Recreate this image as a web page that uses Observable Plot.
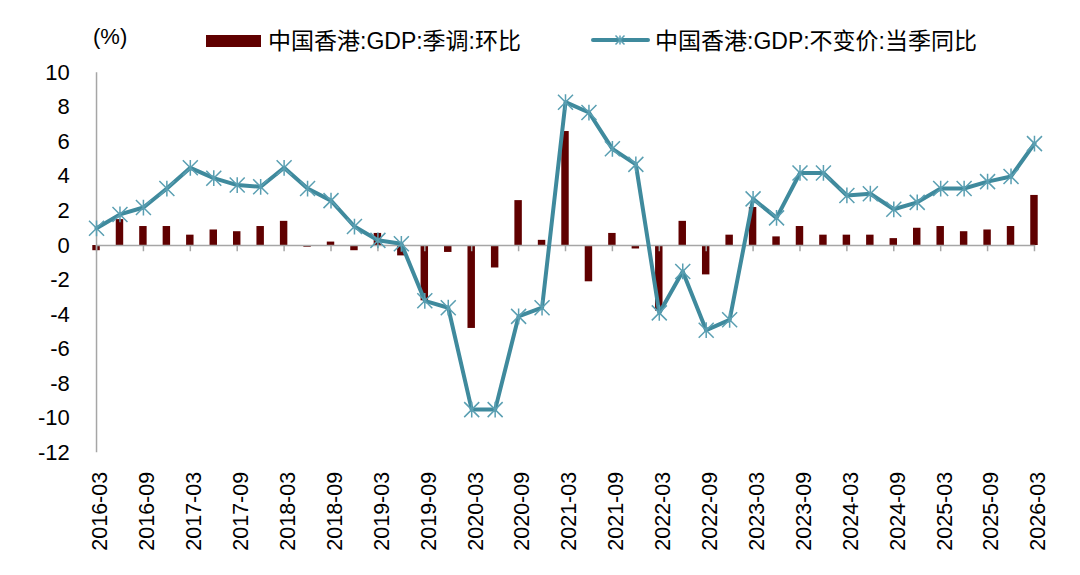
<!DOCTYPE html>
<html>
<head>
<meta charset="utf-8">
<script src="https://cdn.jsdelivr.net/npm/d3@7"></script>
<script src="https://cdn.jsdelivr.net/npm/@observablehq/plot@0.6"></script>
<style>
  html, body { margin: 0; padding: 0; background: #fff; }
  #wrap { position: relative; width: 1080px; height: 575px; font-family: "Liberation Sans", Arial, "Noto Sans CJK SC", sans-serif; }
  #legend { position: absolute; left: 0; top: 0; }
</style>
</head>
<body>
<div id="wrap"></div>
<script>
const quarters = [
  "2016-03","2016-06","2016-09","2016-12",
  "2017-03","2017-06","2017-09","2017-12",
  "2018-03","2018-06","2018-09","2018-12",
  "2019-03","2019-06","2019-09","2019-12",
  "2020-03","2020-06","2020-09","2020-12",
  "2021-03","2021-06","2021-09","2021-12",
  "2022-03","2022-06","2022-09","2022-12",
  "2023-03","2023-06","2023-09","2023-12",
  "2024-03","2024-06","2024-09","2024-12",
  "2025-03","2025-06","2025-09","2025-12",
  "2026-03"
];
// 中国香港:GDP:季调:环比
const qoq = [
  -0.3, 1.5, 1.1, 1.1,
  0.6, 0.9, 0.8, 1.1,
  1.4, -0.1, 0.2, -0.3,
  0.7, -0.6, -3.2, -0.4,
  -4.8, -1.3, 2.6, 0.3,
  6.6, -2.1, 0.7, -0.2,
  -3.8, 1.4, -1.7, 0.6,
  2.2, 0.5, 1.1, 0.6,
  0.6, 0.6, 0.4, 1.0,
  1.1, 0.8, 0.9, 1.1,
  2.9
];
// 中国香港:GDP:不变价:当季同比
const yoy = [
  1.0, 1.8, 2.2, 3.3,
  4.5, 3.9, 3.5, 3.4,
  4.5, 3.3, 2.6, 1.1,
  0.3, 0.1, -3.2, -3.6,
  -9.5, -9.5, -4.1, -3.6,
  8.3, 7.7, 5.6, 4.7,
  -3.9, -1.5, -4.9, -4.3,
  2.7, 1.6, 4.2, 4.2,
  2.9, 3.0, 2.1, 2.5,
  3.3, 3.3, 3.7, 4.0,
  5.9
];
const yTicks = [-12, -10, -8, -6, -4, -2, 0, 2, 4, 6, 8, 10];
const xTickLabels = quarters.filter((d, i) => i % 2 === 0);
const seriesNames = ["中国香港:GDP:季调:环比", "中国香港:GDP:不变价:当季同比"];
const unitLabel = "(%)";

const barColor = "#600000";
const lineColor = "#3f8a9d";
const markerColor = "#5a9fb2";
const axisColor = "#a6a6a6";

const data = quarters.map((q, i) => ({q, qoq: qoq[i], yoy: yoy[i]}));

const asterisk = {
  draw(ctx, size) {
    const r = Math.sqrt(size / Math.PI);
    ctx.moveTo(-r, -r); ctx.lineTo(r, r);
    ctx.moveTo(-r, r); ctx.lineTo(r, -r);
    ctx.moveTo(0, -r * 1.05); ctx.lineTo(0, r * 1.05);
  }
};

const fontFamily = '"Liberation Sans", Arial, "Noto Sans CJK SC", sans-serif';

const chart = Plot.plot({
  width: 1080,
  height: 575,
  marginLeft: 84.3,
  marginRight: 34.3,
  marginTop: 72.3,
  marginBottom: 122.7,
  style: {fontFamily, fontSize: "22px", color: "#000", background: "#fff", overflow: "visible"},
  x: {type: "band", domain: quarters, padding: 0, round: false},
  y: {domain: [-12, 10]},
  marks: [
    Plot.axisY({ticks: yTicks, tickFormat: d => String(d), tickSize: 0, tickPadding: 15, label: null, fontSize: 22}),
    Plot.axisX({ticks: xTickLabels, tickSize: 0, tickRotate: -90, tickPadding: 19, dx: 4, label: null, fontSize: 21.5}),
    Plot.barY(data, {x: "q", y: "qoq", fill: barColor, insetLeft: 8, insetRight: 8}),
    Plot.lineY(data, {x: "q", y: () => 0, stroke: axisColor, strokeWidth: 1.5}),
    Plot.ruleX(xTickLabels, {x: d => d, y1: 0, y2: -0.36, stroke: axisColor, strokeWidth: 1.5}),
    Plot.ruleX([quarters[0]], {x: d => d, y1: -12, y2: 10, stroke: axisColor, strokeWidth: 1.5}),
    Plot.lineY(data, {x: "q", y: "yoy", stroke: lineColor, strokeWidth: 4, strokeLinejoin: "round", strokeLinecap: "round"}),
    Plot.dot(data, {x: "q", y: "yoy", symbol: asterisk, r: 7.5, stroke: markerColor, strokeWidth: 1.5, fill: "none"})
  ]
});

const wrap = document.getElementById("wrap");
wrap.appendChild(chart);

// legend overlay
const leg = d3.select(wrap).append("svg")
  .attr("id", "legend")
  .attr("width", 1080).attr("height", 70)
  .style("font-family", fontFamily)
  .style("font-size", "23px");

leg.append("text").attr("x", 93).attr("y", 36).attr("dominant-baseline", "central").attr("fill", "#000").style("font-size", "22px").text(unitLabel);

leg.append("rect").attr("x", 206).attr("y", 35).attr("width", 55).attr("height", 12).attr("fill", barColor);
leg.append("text").attr("x", 268).attr("y", 41).attr("dominant-baseline", "central").attr("fill", "#000").text(seriesNames[0]);

leg.append("line").attr("x1", 593).attr("x2", 648).attr("y1", 40).attr("y2", 40)
  .attr("stroke", lineColor).attr("stroke-width", 4).attr("stroke-linecap", "round");
const mr = 4.5;
leg.append("path")
  .attr("d", `M${620-mr},${40-mr}L${620+mr},${40+mr}M${620-mr},${40+mr}L${620+mr},${40-mr}M620,${40-mr}L620,${40+mr}`)
  .attr("stroke", markerColor).attr("stroke-width", 1.5).attr("fill", "none");
leg.append("text").attr("x", 655).attr("y", 41).attr("dominant-baseline", "central").attr("fill", "#000").text(seriesNames[1]);
</script>
</body>
</html>
